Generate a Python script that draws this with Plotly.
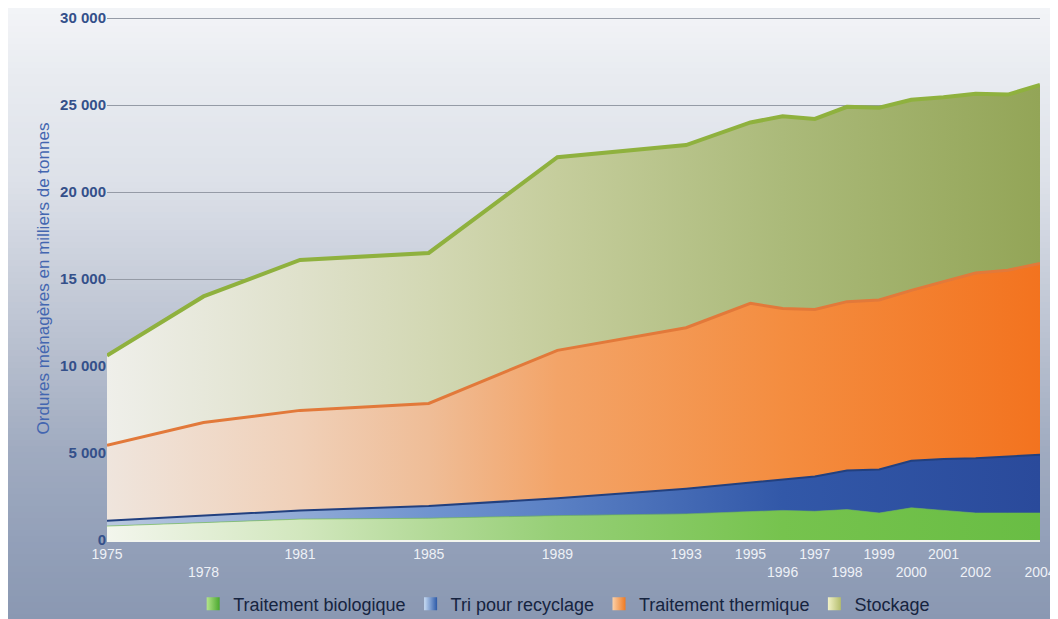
import numpy as np
import plotly.graph_objects as go

# ---------------- data (thousands of tonnes) ----------------
years = [1975, 1978, 1981, 1985, 1989, 1993, 1995, 1996, 1997, 1998,
         1999, 2000, 2001, 2002, 2003, 2004]
traitement_biologique = [800, 1000, 1200, 1250, 1400, 1500, 1650, 1700, 1650, 1750,
                         1550, 1850, 1700, 1550, 1550, 1550]
tri_recyclage = [300, 400, 500, 700, 1000, 1450, 1650, 1750, 2000, 2250,
                 2500, 2700, 2950, 3150, 3250, 3350]
traitement_thermique = [4350, 5350, 5750, 5900, 8500, 9250, 10300, 9850, 9600, 9700,
                        9750, 9800, 10200, 10650, 10700, 11000]
stockage = [5150, 7250, 8650, 8650, 11100, 10500, 10400, 11050, 10950, 11200,
            11050, 10950, 10600, 10300, 10100, 10250]

series_names = ["Traitement biologique", "Tri pour recyclage",
                "Traitement thermique", "Stockage"]

tick_years = [1975, 1978, 1981, 1985, 1989, 1993, 1995, 1996, 1997, 1998,
              1999, 2000, 2001, 2002, 2004]
tick_lower_row = [False, True, False, False, False, False, False, True, False, True,
                  False, True, False, True, True]
y_tick_values = [0, 5000, 10000, 15000, 20000, 25000, 30000]
y_tick_labels = ["0", "5 000", "10 000", "15 000", "20 000", "25 000", "30 000"]
y_title = "Ordures ménagères en milliers de tonnes"

# ---------------- styles ----------------
grad_stops = [0, 0.207, 0.345, 0.483, 0.724, 1]
fill_colors = {
    "Traitement biologique": ["#f3f6ed", "#d2e7be", "#b3da98", "#96cf76", "#76c34e", "#69bd44"],
    "Tri pour recyclage": ["#b9c8de", "#90aad6", "#7094cf", "#5a80c4", "#3258a8", "#2a4a9b"],
    "Traitement thermique": ["#efe5dd", "#f0d0b8", "#efbd97", "#f3a468", "#f48d40", "#f3731f"],
    "Stockage": ["#efefea", "#dfe1cb", "#d3d8b4", "#c5cd9c", "#abba7a", "#93a557"],
}
line_styles = {
    "Traitement biologique": ("rgba(110,190,70,0.6)", 1),
    "Tri pour recyclage": ("#22407f", 2),
    "Traitement thermique": ("#e2793a", 3),
    "Stockage": ("#8fb13e", 4),
}
legend_swatch = {
    "Traitement biologique": ("#b4e58a", "#4aa82e"),
    "Tri pour recyclage": ("#c8dcf4", "#2d5aa8"),
    "Traitement thermique": ("#fbd0a8", "#ef7a22"),
    "Stockage": ("#f2f2c8", "#b4bd6c"),
}

values = {
    "Traitement biologique": traitement_biologique,
    "Tri pour recyclage": tri_recyclage,
    "Traitement thermique": traitement_thermique,
    "Stockage": stockage,
}

fig = go.Figure()

for name in series_names:
    cs = [[s, c] for s, c in zip(grad_stops, fill_colors[name])]
    lc, lw = line_styles[name]
    fig.add_trace(go.Scatter(
        x=years, y=values[name], stackgroup="one", mode="lines",
        line=dict(color=lc, width=lw, shape="linear"),
        fillgradient=dict(type="horizontal", colorscale=cs,
                          start=years[0], stop=years[-1]),
        showlegend=False, hoverinfo="skip", name=name,
    ))

for name in series_names:
    c0, c1 = legend_swatch[name]
    fig.add_trace(go.Scatter(
        x=[None], y=[None], mode="markers", name=name,
        marker=dict(symbol="square", size=13, color=c0,
                    gradient=dict(type="horizontal", color=c1),
                    line=dict(width=0)),
    ))

# ---------------- background gradient (paper) ----------------
# the page body adds an 8 px offset, so the canvas is 8 px smaller
OFF = 8
W, H = 1058 - OFF, 619 - OFF
m_l, m_r, m_t, m_b = 107 - OFF, 18, 17 - OFF, 79
plot_top, plot_bottom = m_t, H - m_b
bg_px = [0, 80, 180, 270, 360, 450, 540, 619]
bg_cols = ["#f4f5f8", "#e8ebf0", "#dde1e9", "#c9cfdb", "#b5bdcd", "#a0abc0", "#93a0b9", "#8a98b2"]


def hex2rgb(h):
    h = h.lstrip("#")
    return [int(h[i:i + 2], 16) for i in (0, 2, 4)]


bg_rgb = np.array([hex2rgb(c) for c in bg_cols], dtype=float)
shapes = []
step = 6
for py in range(0, H, step):
    mid = py + OFF + step / 2
    rgb = [np.interp(mid, bg_px, bg_rgb[:, k]) for k in range(3)]
    col = "rgb(%d,%d,%d)" % tuple(int(round(v)) for v in rgb)
    y0 = (plot_bottom - py) / (plot_bottom - plot_top)
    y1 = (plot_bottom - (py + step + 1)) / (plot_bottom - plot_top)
    shapes.append(dict(type="rect", xref="paper", yref="paper",
                       x0=-0.2, x1=1.1, y0=y1, y1=y0,
                       fillcolor=col, line=dict(width=0), layer="below"))

ticktext = [(" <br>%d" % y) if low else str(y) for y, low in zip(tick_years, tick_lower_row)]

fig.update_layout(
    width=W, height=H,
    margin=dict(l=m_l, r=m_r, t=m_t, b=m_b, autoexpand=False),
    paper_bgcolor="#c8cfdb",
    plot_bgcolor="rgba(0,0,0,0)",
    font=dict(family="Liberation Sans, Arial, sans-serif"),
    shapes=shapes,
    showlegend=True,
    legend=dict(orientation="h", x=0.49, xanchor="center",
                y=(plot_bottom - (604 - OFF)) / (plot_bottom - plot_top), yanchor="middle",
                font=dict(size=18, color="#16243f"), bgcolor="rgba(0,0,0,0)",
                itemsizing="trace", traceorder="normal"),
    xaxis=dict(range=[years[0], years[-1]], tickmode="array",
               tickvals=tick_years, ticktext=ticktext, tickangle=0,
               tickfont=dict(size=14, color="#eef1f6"),
               showgrid=False, zeroline=False,
               showline=True, linecolor="#f2f5ee", linewidth=2,
               ticks="", fixedrange=True),
    yaxis=dict(range=[0, 30060], tickmode="array",
               tickvals=y_tick_values, ticktext=y_tick_labels,
               tickfont=dict(size=15, color="#34508a", weight="bold"),
               showgrid=True, gridcolor="#959ba6", gridwidth=1,
               zeroline=False, showline=False, ticks="",
               title=dict(text=y_title, font=dict(size=17, color="#4366b0"), standoff=6),
               automargin=False, fixedrange=True),
)

fig.write_html("out.html")
